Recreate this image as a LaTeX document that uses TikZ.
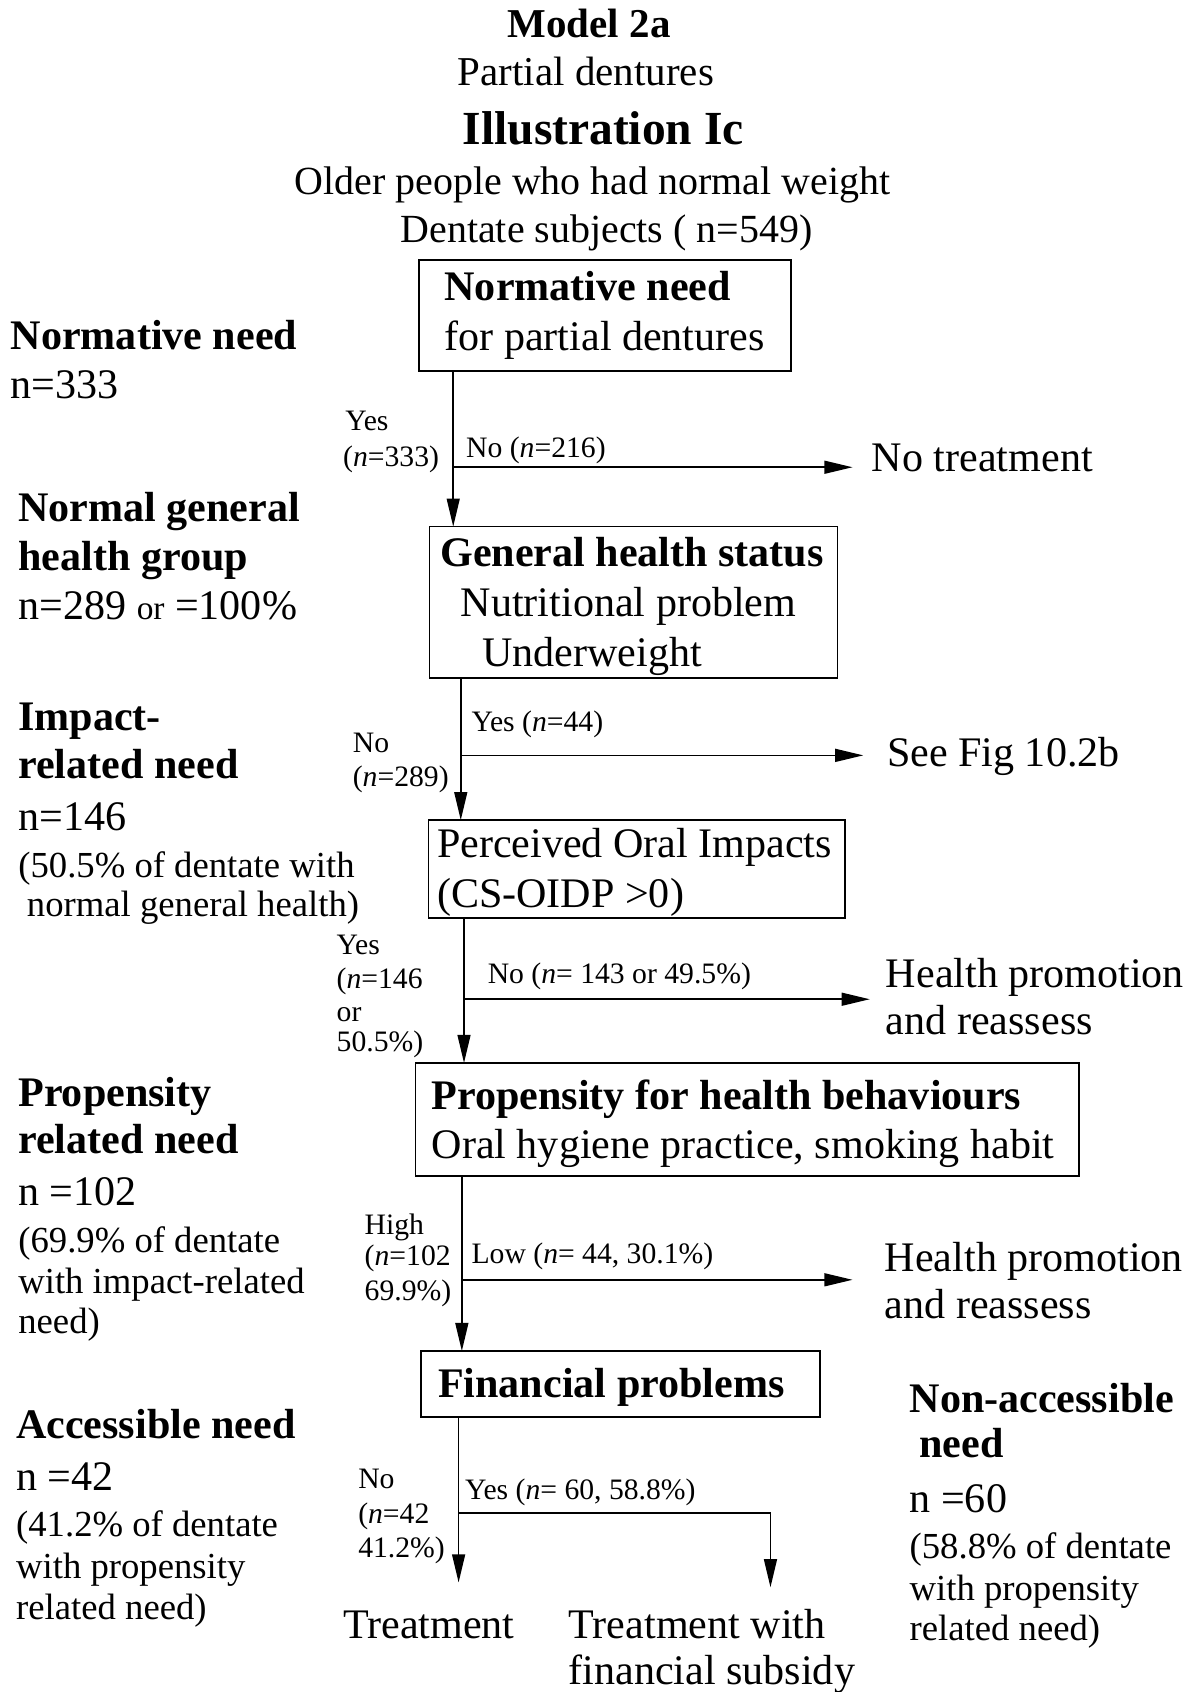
\documentclass[tikz,border=0pt]{standalone}
\usepackage{fontspec}
\setmainfont{Liberation Serif}
\usetikzlibrary{arrows.meta}
\newcommand\szMain{\fontsize{39}{46}\selectfont}
\newcommand\szLab{\fontsize{27.5}{31}\selectfont}
\newcommand\szPar{\fontsize{34}{38}\selectfont}
\newcommand\szTitle{\fontsize{38}{44}\selectfont}
\newcommand\szBig{\fontsize{44}{50}\selectfont}
\newcommand\szSub{\fontsize{37}{42}\selectfont}
\begin{document}
\begin{tikzpicture}[x=1pt,y=-1pt,
  every node/.style={inner sep=0pt, outer sep=0pt},
  txt/.style={anchor=base west, font=\szMain},
  hd/.style={anchor=base west, font=\szMain\bfseries},
  lab/.style={anchor=base west, font=\szLab},
  par/.style={anchor=base west, font=\szPar},
  box/.style={draw, line width=1.6pt},
  boxtext/.style={anchor=west, align=left, font=\szMain},
  conn/.style={line width=1.4pt},
  arr/.style={conn, -{Triangle[length=26pt,width=12pt]}},
]
\useasboundingbox (0,0) rectangle (1103,1568);

% headings
\node[anchor=base, font=\szTitle\bfseries] (h1) at (546,35) {Model 2a};
\node[anchor=base, font=\szTitle] (h2) at (543,79) {Partial dentures};
\node[anchor=base, font=\szBig\bfseries] (h3) at (559,134) {Illustration Ic};
\node[anchor=base, font=\szSub] (h4) at (549,180) {Older people who had normal weight};
\node[anchor=base, font=\szSub] (h5) at (562,225) {Dentate subjects ( n=549)};

% decision boxes
\node[box, minimum width=345pt, minimum height=103pt] (nn) at (560.5,292.5) {};
\node[boxtext] (nnt) at ([xshift=24pt]nn.west) {\textbf{Normative need}\\for partial dentures};

\node[box, minimum width=378pt, minimum height=140pt] (gh) at (587,558) {};
\node[boxtext] (ght) at ([xshift=10pt,yshift=-4pt]gh.west) {\textbf{General health status}\\\hspace*{19pt}Nutritional problem\\\hspace*{39pt}Underweight};

\node[box, minimum width=386pt, minimum height=91pt] (po) at (590,805.5) {};
\node[boxtext] (pot) at ([xshift=8pt,yshift=-3pt]po.west) {Perceived Oral Impacts\\(CS-OIDP >0)};

\node[box, minimum width=615pt, minimum height=105pt] (pb) at (692.5,1037.5) {};
\node[boxtext] (pbt) at ([xshift=15pt,yshift=-4pt]pb.west) {\textbf{Propensity for health behaviours}\\Oral hygiene practice, smoking habit};

\node[box, minimum width=370pt, minimum height=61pt] (fp) at (575,1282.5) {};
\node[boxtext] (fpt) at ([xshift=16pt,yshift=-3pt]fp.west) {\textbf{Financial problems}};

% left column
\node[hd] (l1a) at (10,324) {Normative need};
\node[txt] (l1b) at (10,369) {n=333};
\node[hd] (l2a) at (17,483) {Normal general};
\node[hd] (l2b) at (17,529) {health group};
\node[txt] (l2c) at (17,574) {n=289 {\fontsize{31}{36}\selectfont or} =100\%};
\node[hd] (l3a) at (17,677) {Impact-};
\node[hd] (l3b) at (17,721) {related need};
\node[txt] (l3c) at (17,770) {n=146};
\node[par] (l3d) at (17,813) {(50.5\% of dentate with};
\node[par] (l3e) at (25,849) {normal general health)};
\node[hd] (l4a) at (17,1025) {Propensity};
\node[hd] (l4b) at (17,1069) {related need};
\node[txt] (l4c) at (17,1117) {n =102};
\node[par] (l4d) at (17,1161) {(69.9\% of dentate};
\node[par] (l4e) at (17,1199) {with impact-related};
\node[par] (l4f) at (17,1236) {need)};
\node[hd] (l5a) at (15,1333) {Accessible need};
\node[txt] (l5b) at (15,1381) {n =42};
\node[par] (l5c) at (15,1424) {(41.2\% of dentate};
\node[par] (l5d) at (15,1463) {with propensity};
\node[par] (l5e) at (15,1501) {related need)};

% right column
\node[hd] (r5a) at (843,1309) {Non-accessible};
\node[hd] (r5b) at (852,1351) {need};
\node[txt] (r5c) at (843,1402) {n =60};
\node[par] (r5d) at (843,1444) {(58.8\% of dentate};
\node[par] (r5e) at (843,1483) {with propensity};
\node[par] (r5f) at (843,1520) {related need)};

% outcomes
\node[txt] (nt) at (808,437) {No treatment};
\node[txt] (sf) at (822,710) {See Fig 10.2b};
\node[txt] (hpa) at (821,915) {Health promotion};
\node[txt] (hpb) at (821,959) {and reassess};
\node[txt] (hqa) at (820,1178) {Health promotion};
\node[txt] (hqb) at (820,1222) {and reassess};
\node[txt] (tr) at (318,1518) {Treatment};
\node[txt] (twa) at (527,1518) {Treatment with};
\node[txt] (twb) at (527,1561) {financial subsidy};

% branch labels
\node[lab] (y1a) at (320,399) {Yes};
\node[lab] (y1b) at (318,432) {(\textit{n}=333)};
\node[lab] (n1) at (432,424) {No (\textit{n}=216)};
\node[lab] (n2a) at (327,697) {No};
\node[lab] (n2b) at (327,729) {(\textit{n}=289)};
\node[lab] (y2) at (437,678) {Yes (\textit{n}=44)};
\node[lab] (y3a) at (312,885) {Yes};
\node[lab] (y3b) at (312,916) {(\textit{n}=146};
\node[lab] (y3c) at (312,947) {or};
\node[lab] (y3d) at (312,974) {50.5\%)};
\node[lab] (n3) at (452,911) {No (\textit{n}= 143 or 49.5\%)};
\node[lab] (g4a) at (338,1144) {High};
\node[lab] (g4b) at (338,1173) {(\textit{n}=102};
\node[lab] (g4c) at (338,1205) {69.9\%)};
\node[lab] (w4) at (437,1171) {Low (\textit{n}= 44, 30.1\%)};
\node[lab] (n5a) at (332,1379) {No};
\node[lab] (n5b) at (332,1412) {(\textit{n}=42};
\node[lab] (n5c) at (332,1443) {41.2\%)};
\node[lab] (y5) at (431,1390) {Yes (\textit{n}= 60, 58.8\%)};

% trunk positions
\coordinate (x1) at (420,0);
\coordinate (x2) at (427,0);
\coordinate (x3) at (430,0);
\coordinate (x4) at (428,0);
\coordinate (x5) at (425,0);
\coordinate (x6) at (714,0);
\coordinate (b1) at (420,433);
\coordinate (b2) at (427,700);
\coordinate (b3) at (430,926);
\coordinate (b4) at (428,1186);
\coordinate (b5) at (425,1402);

% connectors
\draw[arr] (nn.south -| x1) -- (gh.north -| x1);
\draw[arr, shorten >=18pt] (b1) -- (b1 -| nt.west);
\draw[arr] (gh.south -| x2) -- (po.north -| x2);
\draw[arr, shorten >=22pt] (b2) -- (b2 -| sf.west);
\draw[arr] (po.south -| x3) -- (pb.north -| x3);
\draw[arr, shorten >=15pt] (b3) -- (b3 -| hpa.west);
\draw[arr] (pb.south -| x4) -- (fp.north -| x4);
\draw[arr, shorten >=30pt] (b4) -- (b4 -| hqa.west);
\draw[arr, shorten >=26pt] (fp.south -| x5) -- (tr.north -| x5);
\draw[arr, shorten >=20pt] (b5) -- (b5 -| x6) -- (twa.north -| x6);
\end{tikzpicture}
\end{document}
